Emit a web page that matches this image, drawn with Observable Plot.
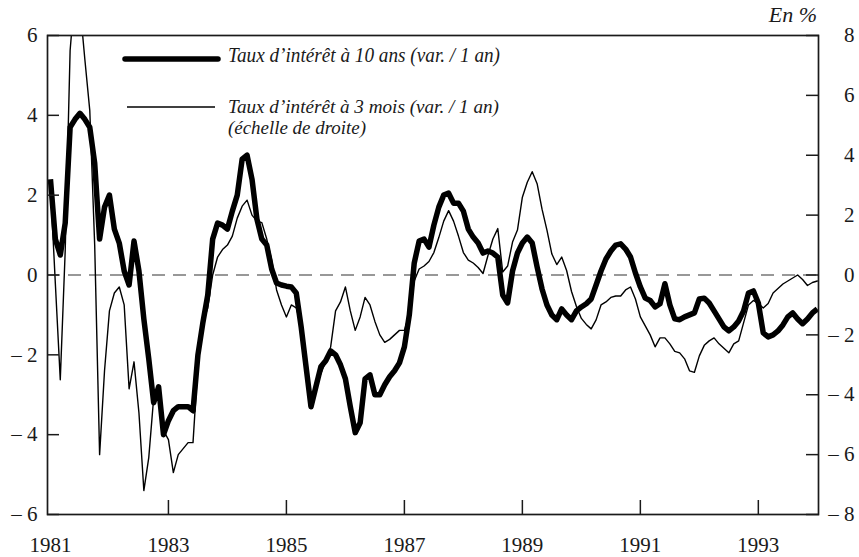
<!DOCTYPE html>
<html><head><meta charset="utf-8">
<script src="https://cdn.jsdelivr.net/npm/d3@7"></script>
<script src="https://cdn.jsdelivr.net/npm/@observablehq/plot@0.6"></script>
<style>html,body{margin:0;padding:0;background:#fff} svg{display:block}</style>
</head><body><div id="chart"></div>
<script>
// Monthly series, January 1981 to January 1994
const startYear = 1981;
// Taux d'intérêt à 10 ans (var. / 1 an) — left scale
const tenYear = [
  2.4, 0.9, 0.5, 1.3, 3.7, 3.9, 4.05, 3.9, 3.7, 2.8, 0.9, 1.7,
  2.0, 1.15, 0.8, 0.1, -0.25, 0.85, 0.1, -1.1, -2.1, -3.2, -2.8, -4.0,
  -3.65, -3.4, -3.3, -3.3, -3.3, -3.4, -2.0, -1.2, -0.5, 0.9, 1.3, 1.25,
  1.15, 1.6, 2.0, 2.9, 3.0, 2.4, 1.4, 0.9, 0.75, 0.15, -0.2, -0.25,
  -0.28, -0.3, -0.45, -1.3, -2.3, -3.3, -2.8, -2.3, -2.15, -1.9, -2.0, -2.25,
  -2.6, -3.3, -3.95, -3.7, -2.6, -2.5, -3.0, -3.0, -2.75, -2.55, -2.4, -2.2,
  -1.8, -1.0, 0.3, 0.85, 0.9, 0.7, 1.25, 1.7, 2.0, 2.05, 1.8, 1.8,
  1.6, 1.15, 0.95, 0.8, 0.55, 0.6, 0.55, 0.45, -0.5, -0.7, 0.1, 0.55,
  0.8, 0.95, 0.8, 0.2, -0.35, -0.75, -1.0, -1.12, -0.85, -1.0, -1.12, -0.9,
  -0.8, -0.72, -0.6, -0.25, 0.1, 0.4, 0.6, 0.75, 0.78, 0.65, 0.45, 0.05,
  -0.3, -0.58, -0.64, -0.8, -0.72, -0.22, -0.75, -1.1, -1.12, -1.05, -1.0, -0.95,
  -0.6, -0.58, -0.7, -0.9, -1.1, -1.3, -1.4, -1.3, -1.15, -0.9, -0.45, -0.4,
  -0.7, -1.45, -1.55, -1.5, -1.4, -1.25, -1.05, -0.95, -1.1, -1.22, -1.1, -0.95, -0.85
];
// Taux d'intérêt à 3 mois (var. / 1 an) — right scale
const threeMonth = [
  3.0, -0.3, -3.5, 0.8, 7.5, 9.5, 9.0, 7.2, 5.5, 1.0, -6.0, -3.2,
  -1.2, -0.6, -0.4, -1.0, -3.8, -2.9, -4.6, -7.2, -6.1, -4.1, -3.7, -5.2,
  -5.5, -6.6, -6.0, -5.8, -5.6, -5.6, -3.0, -1.6, -1.1, 0.0, 0.6, 0.85,
  1.0, 1.3, 1.9, 2.3, 2.5, 2.0, 1.8, 1.75, 1.2, 0.5, -0.5, -1.0,
  -1.4, -1.0, -1.1, -1.7, -3.0, -4.3, -3.6, -3.3, -2.9, -2.4, -1.2, -0.9,
  -0.4, -1.2, -1.85, -1.4, -0.75, -1.0, -1.55, -2.0, -2.25, -2.15, -2.0, -1.85,
  -1.85, -1.3, -0.2, 0.2, 0.3, 0.45, 0.75, 1.25, 1.8, 2.15, 1.8, 1.3,
  0.75, 0.5, 0.4, 0.25, 0.05, 0.65, 1.2, 1.55, 0.1, 0.3, 1.1, 1.5,
  2.6, 3.1, 3.45, 3.05, 2.2, 1.5, 0.7, 0.35, 0.6, 0.15, -0.55, -1.05,
  -1.45, -1.65, -1.8, -1.5, -1.0, -0.9, -0.75, -0.7, -0.7, -0.5, -0.4, -0.8,
  -1.4, -1.7, -2.0, -2.4, -2.1, -2.1, -2.3, -2.55, -2.6, -2.8, -3.2, -3.25,
  -2.7, -2.35, -2.2, -2.1, -2.3, -2.45, -2.6, -2.3, -2.2, -1.6, -1.0, -0.85,
  -0.95, -1.1, -0.95, -0.6, -0.45, -0.3, -0.2, -0.1, 0.0, -0.15, -0.35, -0.25, -0.2
];
const leftTicks = [-6, -4, -2, 0, 2, 4, 6];
const rightTicks = [-8, -6, -4, -2, 0, 2, 4, 6, 8];
const yearLabels = [1981, 1983, 1985, 1987, 1989, 1991, 1993];
const yearTickMarks = [1983, 1985, 1987, 1989, 1991, 1993];
const legendTen = "Taux d\u2019intérêt à 10 ans (var. / 1 an)";
const legendThree = ["Taux d\u2019intérêt à 3 mois (var. / 1 an)", "(échelle de droite)"];
const unitLabel = "En %";

const ratio = 6 / 8; // right scale -> left scale
const fmt = v => v < 0 ? "\u2013 " + Math.abs(v) : String(v);
const rows = tenYear.map((v, i) => ({t: startYear + i / 12, ten: v, three: threeMonth[i]}));

const font = "'Liberation Serif', 'Times New Roman', serif";
const ink = "#1a1a1a";

const chart = Plot.plot({
  width: 859, height: 557,
  marginLeft: 47, marginRight: 41, marginTop: 35, marginBottom: 43,
  style: {fontFamily: font, fontSize: "21px", color: ink, background: "#fff"},
  x: {domain: [1980.95, 1994.02], label: null},
  y: {domain: [-6, 6], label: null},
  marks: [
    Plot.ruleY([0], {stroke: "#333", strokeWidth: 1.1, strokeDasharray: "13,8"}),
    Plot.line(rows, {x: "t", y: d => d.three * ratio, stroke: "#000", strokeWidth: 1.4, clip: true}),
    Plot.line(rows, {x: "t", y: "ten", stroke: "#000", strokeWidth: 5.5, strokeLinejoin: "round", strokeLinecap: "butt", clip: true}),
    Plot.frame({stroke: ink, strokeWidth: 1.7}),
    // left axis
    Plot.axisY(leftTicks, {anchor: "left", tickSize: -12, strokeWidth: 1.5, tickFormat: () => ""}),
    Plot.axisY(leftTicks, {anchor: "left", tickSize: 0, tickPadding: 10, tickFormat: fmt, fill: ink}),
    // right axis
    Plot.axisY(rightTicks.map(v => v * ratio), {anchor: "right", tickSize: -13, strokeWidth: 1.5, tickFormat: () => ""}),
    Plot.axisY(rightTicks.map(v => v * ratio), {anchor: "right", tickSize: 0, tickPadding: 36, textAnchor: "end", fill: ink, tickFormat: v => fmt(Math.round(v / ratio))}),
    // x axis
    Plot.axisX(yearTickMarks, {anchor: "bottom", tickSize: -14, strokeWidth: 1.5, tickFormat: () => ""}),
    Plot.axisX(yearLabels, {anchor: "bottom", tickSize: 0, tickPadding: 23, fill: ink, tickFormat: d => String(d)})
  ]
});

document.getElementById("chart").appendChild(chart);

// Legend and unit label
const svg = d3.select(chart);
const lg = svg.append("g").attr("font-family", font).attr("font-style", "italic")
  .attr("fill", ink).attr("text-anchor", "start");
lg.append("line").attr("x1", 125).attr("x2", 218).attr("y1", 59).attr("y2", 59)
  .attr("stroke", "#000").attr("stroke-width", 5.5).attr("stroke-linecap", "round");
lg.append("line").attr("x1", 127).attr("x2", 215).attr("y1", 107).attr("y2", 107)
  .attr("stroke", "#000").attr("stroke-width", 1.4);
lg.append("text").attr("x", 228).attr("y", 62).attr("font-size", 21)
  .attr("textLength", 272).attr("lengthAdjust", "spacingAndGlyphs").text(legendTen);
lg.append("text").attr("x", 228).attr("y", 113).attr("font-size", 19.5)
  .attr("textLength", 271).attr("lengthAdjust", "spacingAndGlyphs").text(legendThree[0]);
lg.append("text").attr("x", 228).attr("y", 134).attr("font-size", 19.5)
  .attr("textLength", 138).attr("lengthAdjust", "spacingAndGlyphs").text(legendThree[1]);
lg.append("text").attr("x", 817).attr("y", 22).attr("font-size", 22)
  .attr("text-anchor", "end").text(unitLabel);
</script>
</body></html>
